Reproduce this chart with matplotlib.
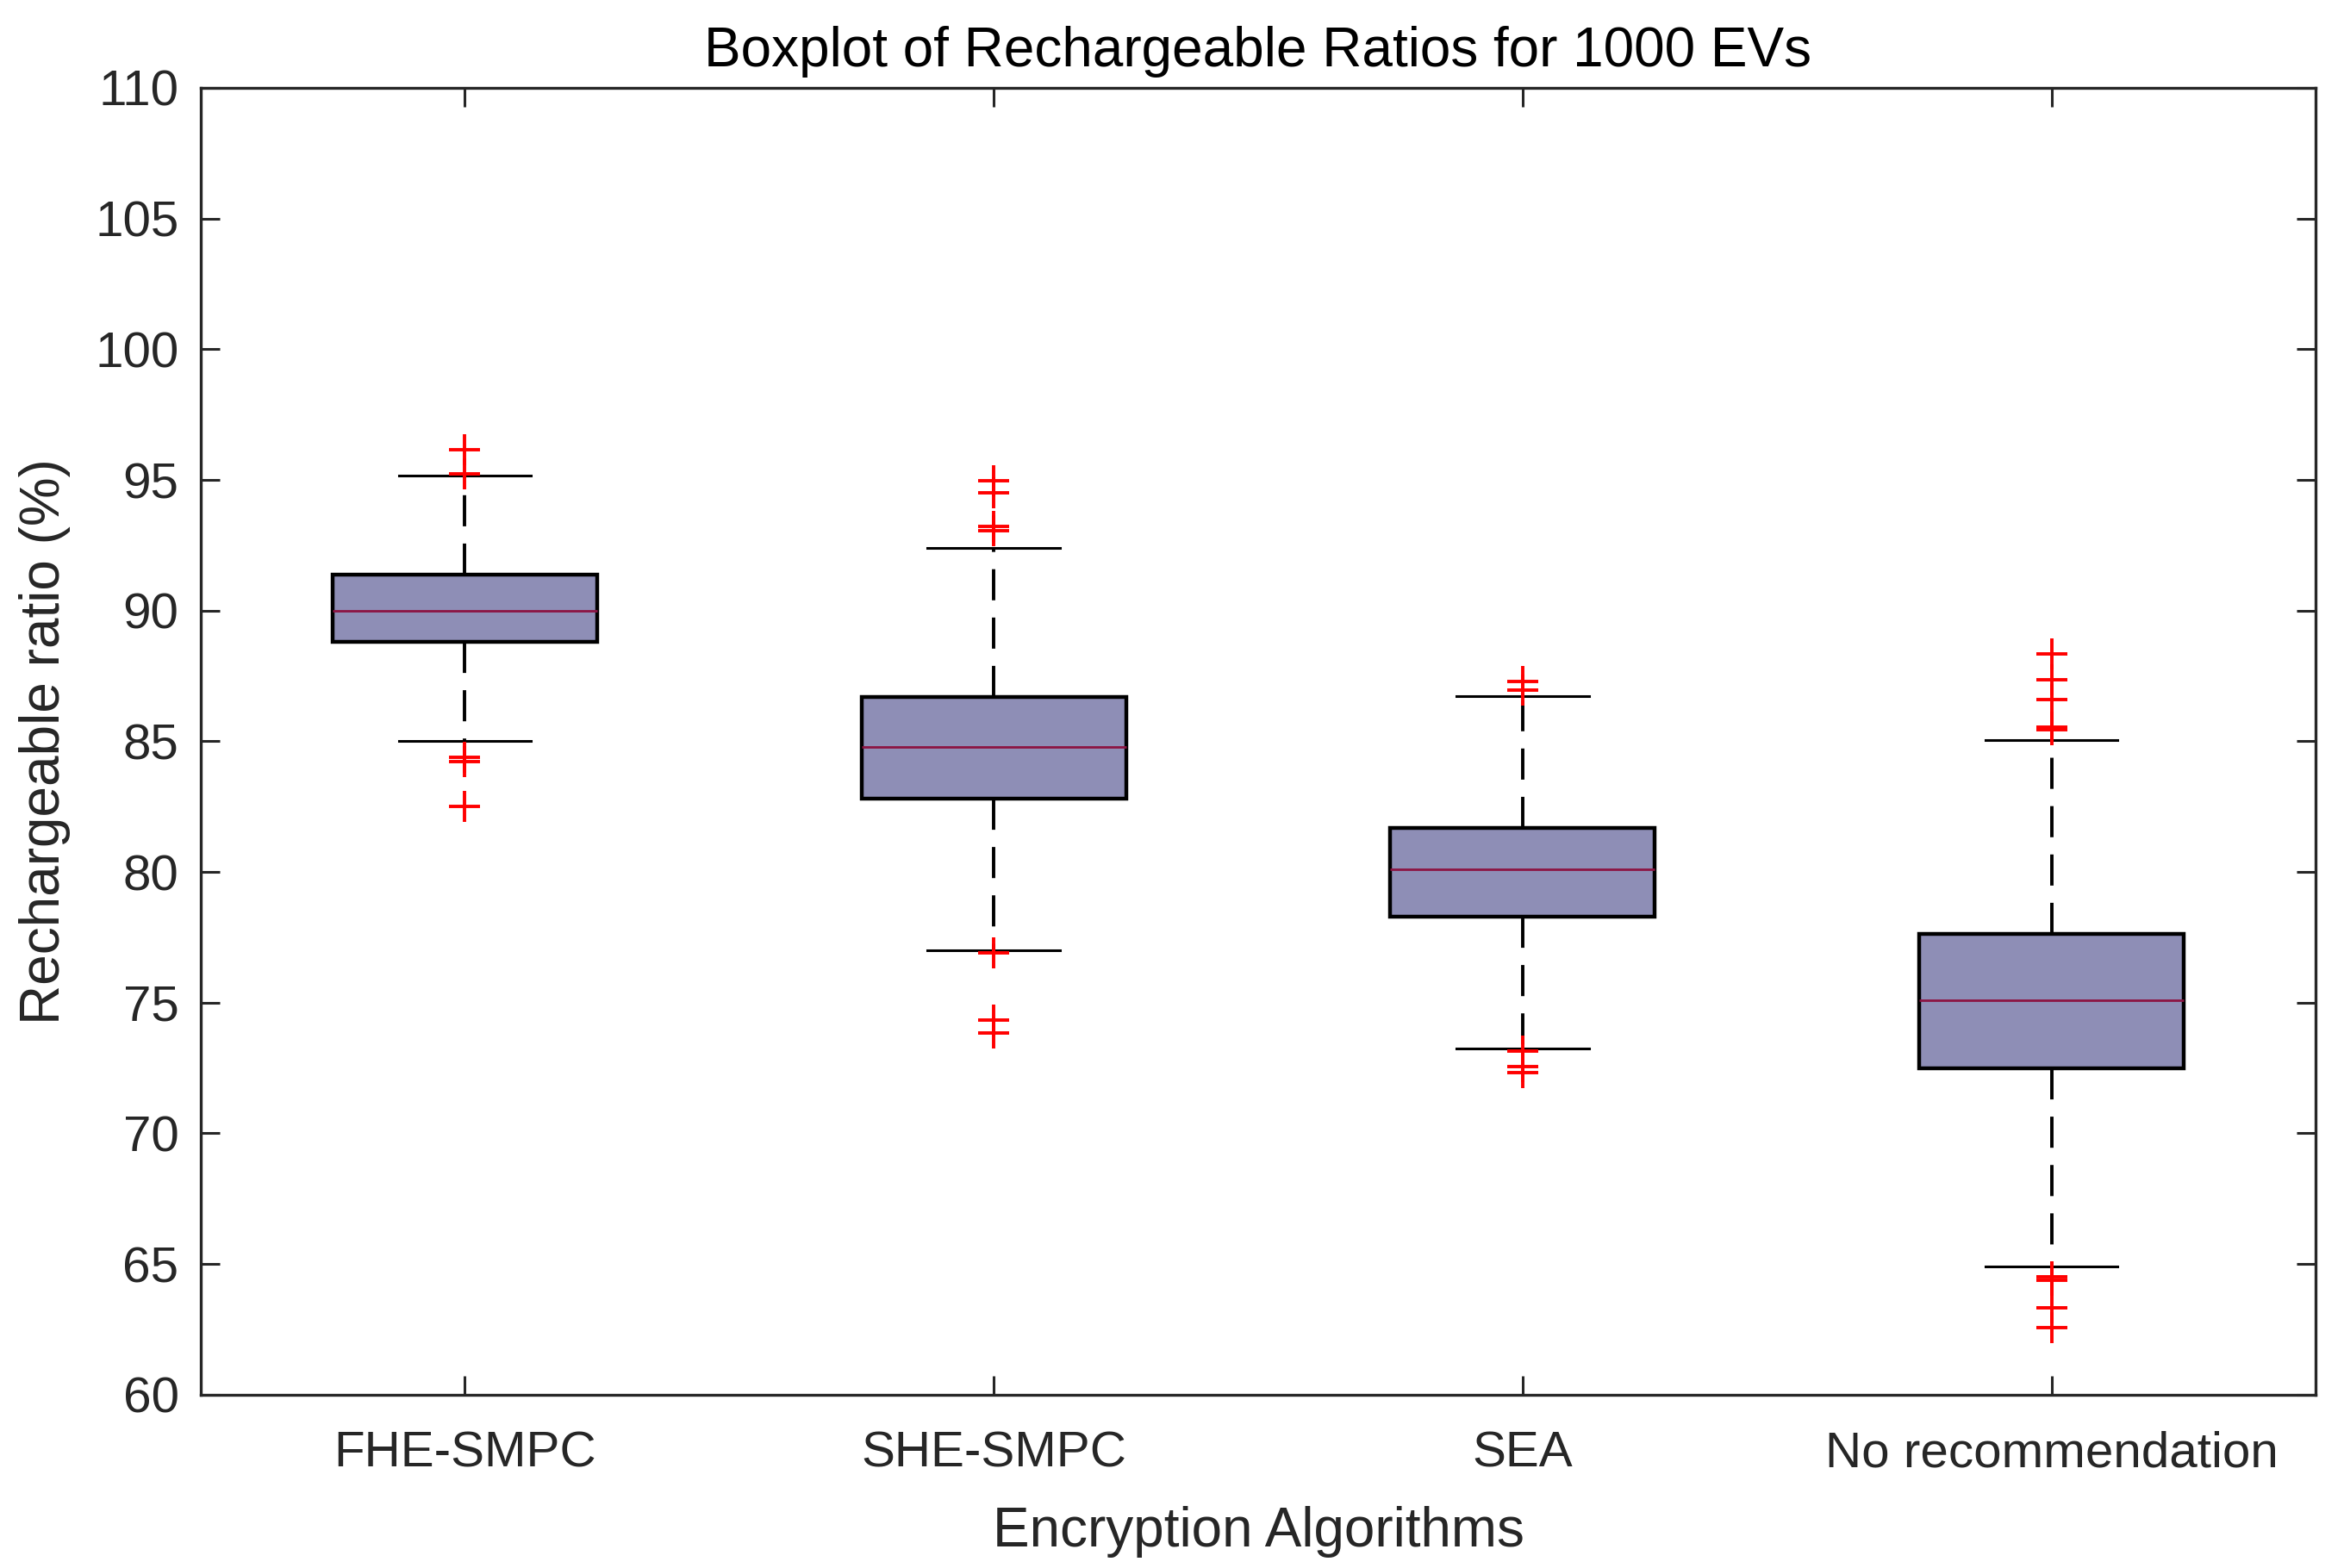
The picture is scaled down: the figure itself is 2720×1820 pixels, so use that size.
import numpy as np
import matplotlib
matplotlib.use('Agg')
import matplotlib.pyplot as plt

# =============================================================================
# DATA
# =============================================================================
labels  = ['FHE-SMPC', 'SHE-SMPC', 'SEA', 'No recommendation']
medians = [90.0, 84.77, 80.09, 75.09]
q1      = [88.80, 82.79, 78.29, 72.50]
q3      = [91.36, 86.71, 81.68, 77.64]
whislo  = [85.01, 76.99, 73.25, 64.92]
whishi  = [95.16, 92.40, 86.72, 85.05]
fliers  = [
    [96.14, 95.22, 84.40, 84.23, 82.51],
    [94.96, 94.49, 93.23, 93.06, 76.91, 74.33, 73.84],
    [87.28, 86.96, 73.15, 72.57, 72.31],
    [88.34, 87.35, 86.58, 85.54, 85.45, 64.50, 64.39, 63.33, 62.58],
]

# =============================================================================
# FIGURE SETUP
# =============================================================================
plt.rcParams['font.family'] = ['Liberation Sans', 'DejaVu Sans']
txt_col = '#262626'

fig = plt.figure(figsize=(13.6, 9.1), dpi=200)
ax = fig.add_axes([0.0855, 0.1105, 0.9025, 0.8335])

stats = []
for i in range(len(labels)):
    stats.append(dict(med=medians[i], q1=q1[i], q3=q3[i],
                      whislo=whislo[i], whishi=whishi[i],
                      fliers=fliers[i], label=labels[i]))

lw_whisk = 1.4
bp = ax.bxp(stats, positions=[1, 2, 3, 4], widths=0.5, patch_artist=True,
            boxprops=dict(facecolor='#8e8eb6', edgecolor='black', linewidth=1.6),
            medianprops=dict(color='#8c1443', linewidth=1.0),
            whiskerprops=dict(color='black', linewidth=lw_whisk,
                              linestyle=(0, (13 / lw_whisk, 7.2 / lw_whisk))),
            capprops=dict(color='black', linewidth=1.1),
            flierprops=dict(marker='+', markeredgecolor='red', markersize=13,
                            markeredgewidth=1.4, linestyle='none', zorder=4))

# =============================================================================
# AXES STYLE (MATLAB-like box)
# =============================================================================
ax.set_xlim(0.5, 4.5)
ax.set_ylim(60, 110)
ax.set_yticks(np.arange(60, 111, 5))
ax.set_xticks([1, 2, 3, 4])
ax.set_xticklabels(labels)

for sp in ax.spines.values():
    sp.set_color(txt_col)
    sp.set_linewidth(1.2)

ax.tick_params(axis='both', direction='in', length=8, width=1.1,
               color=txt_col, labelcolor=txt_col, labelsize=21,
               top=True, right=True)
ax.tick_params(axis='y', pad=9)
ax.tick_params(axis='x', pad=15)

ax.set_title('Boxplot of Rechargeable Ratios for 1000 EVs',
             fontsize=23, color='black', pad=9)
ax.set_xlabel('Encryption Algorithms', fontsize=23, color=txt_col, labelpad=12)
ax.set_ylabel('Rechargeable ratio (%)', fontsize=23, color=txt_col, labelpad=10)

fig.savefig('out.png', dpi=200, facecolor='white')
